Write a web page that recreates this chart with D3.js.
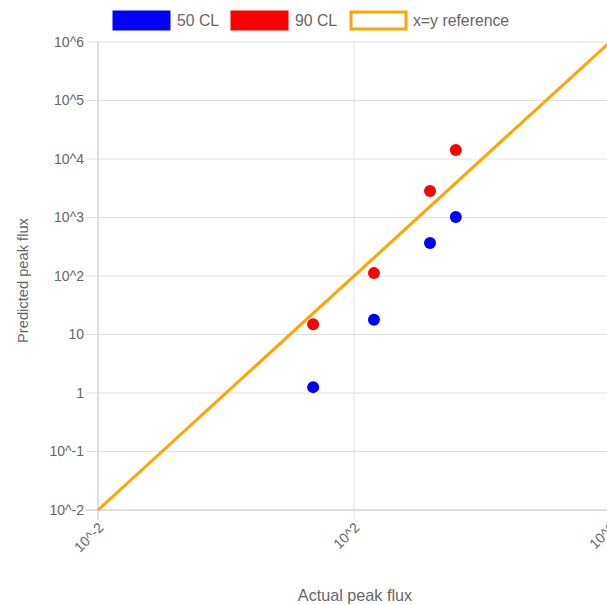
<!DOCTYPE html>
<html><head><meta charset="utf-8">
<script src="https://cdn.jsdelivr.net/npm/d3@7"></script>
<style>body{margin:0;background:#fff;overflow:hidden}text{font-family:"Liberation Sans",Arial,sans-serif}</style>
</head><body><svg id="c" width="607" height="605"></svg>
<script>
const actual = [23, 205, 1540, 3900];
const pred50 = [1.26, 17.8, 365, 1020];
const pred90 = [15, 112, 2840, 14200];
const refLine = [0.01, 1e6];
const yTicks = [1e-2, 1e-1, 1, 10, 1e2, 1e3, 1e4, 1e5, 1e6];
const yTickLabels = ["10^-2","10^-1","1","10","10^2","10^3","10^4","10^5","10^6"];
const xTicks = [1e-2, 1e2, 1e6];
const xTickLabels = ["10^-2","10^2","10^6"];
const seriesNames = ["50 CL", "90 CL", "x=y reference"];
const colors = ["#0000FF", "#FF0000", "#FFA500"];

const svg = d3.select("#c");
const L = 98, R = 610, T = 42, B = 510;
const x = d3.scaleLog().domain([1e-2, 1e6]).range([L, R]);
const y = d3.scaleLog().domain([1e-2, 1e6]).range([B, T]);
const grid = "#e0e0e0", txt = "#666";

// horizontal grid + y ticks
const yg = svg.append("g");
yTicks.forEach((t, i) => {
  yg.append("line").attr("x1", L - 12).attr("x2", R).attr("y1", y(t)).attr("y2", y(t)).attr("stroke", grid).attr("stroke-width", 1);
  yg.append("text").attr("x", L - 14).attr("y", y(t)).attr("dy", "0.35em").attr("text-anchor", "end")
    .attr("font-size", 14).attr("fill", txt).text(yTickLabels[i]);
});
// vertical grid + x ticks
const xg = svg.append("g");
xTicks.forEach((t, i) => {
  xg.append("line").attr("x1", x(t)).attr("x2", x(t)).attr("y1", T).attr("y2", B + 10).attr("stroke", grid).attr("stroke-width", 1);
  xg.append("text").attr("transform", `translate(${x(t) + 3},${B + 15}) rotate(-45)`).attr("text-anchor", "end")
    .attr("dy", "0.35em").attr("font-size", 14).attr("fill", txt).text(xTickLabels[i]);
});
// axis lines
svg.append("line").attr("x1", L).attr("x2", L).attr("y1", T).attr("y2", B + 10).attr("stroke", "#d0d0d0");
svg.append("line").attr("x1", L - 12).attr("x2", R).attr("y1", B).attr("y2", B).attr("stroke", "#d0d0d0");

// reference line
svg.append("path").datum(refLine).attr("fill", "none").attr("stroke", colors[2]).attr("stroke-width", 3)
  .attr("d", d3.line().x(d => x(d)).y(d => y(d)));

// points
[[pred50, colors[0]], [pred90, colors[1]]].forEach(([vals, c]) => {
  svg.append("g").selectAll("circle").data(vals).join("circle")
    .attr("cx", (d, i) => x(actual[i])).attr("cy", d => y(d)).attr("r", 6).attr("fill", c);
});

// axis titles
svg.append("text").attr("x", 355).attr("y", 601).attr("text-anchor", "middle").attr("font-size", 16.2).attr("fill", txt).text("Actual peak flux");
svg.append("text").attr("transform", `translate(28,280.5) rotate(-90)`).attr("text-anchor", "middle").attr("font-size", 14.7).attr("fill", txt).text("Predicted peak flux");

// legend
const leg = [
  {x: 113, fill: colors[0], stroke: colors[0], sw: 1, tx: 177},
  {x: 231, fill: colors[1], stroke: colors[1], sw: 1, tx: 295},
  {x: 350, fill: "#fff", stroke: colors[2], sw: 3, tx: 413}
];
leg.forEach((l, i) => {
  svg.append("rect").attr("x", l.x + (l.sw > 1 ? 1 : 0)).attr("y", 11 + (l.sw > 1 ? 1 : 0))
    .attr("width", 57 - (l.sw > 1 ? 2 : 0)).attr("height", 19 - (l.sw > 1 ? 2 : 0))
    .attr("fill", l.fill).attr("stroke", l.stroke).attr("stroke-width", l.sw);
  svg.append("text").attr("x", l.tx).attr("y", 20.5).attr("dy", "0.35em").attr("font-size", 15.8).attr("fill", txt).text(seriesNames[i]);
});
</script></body></html>
